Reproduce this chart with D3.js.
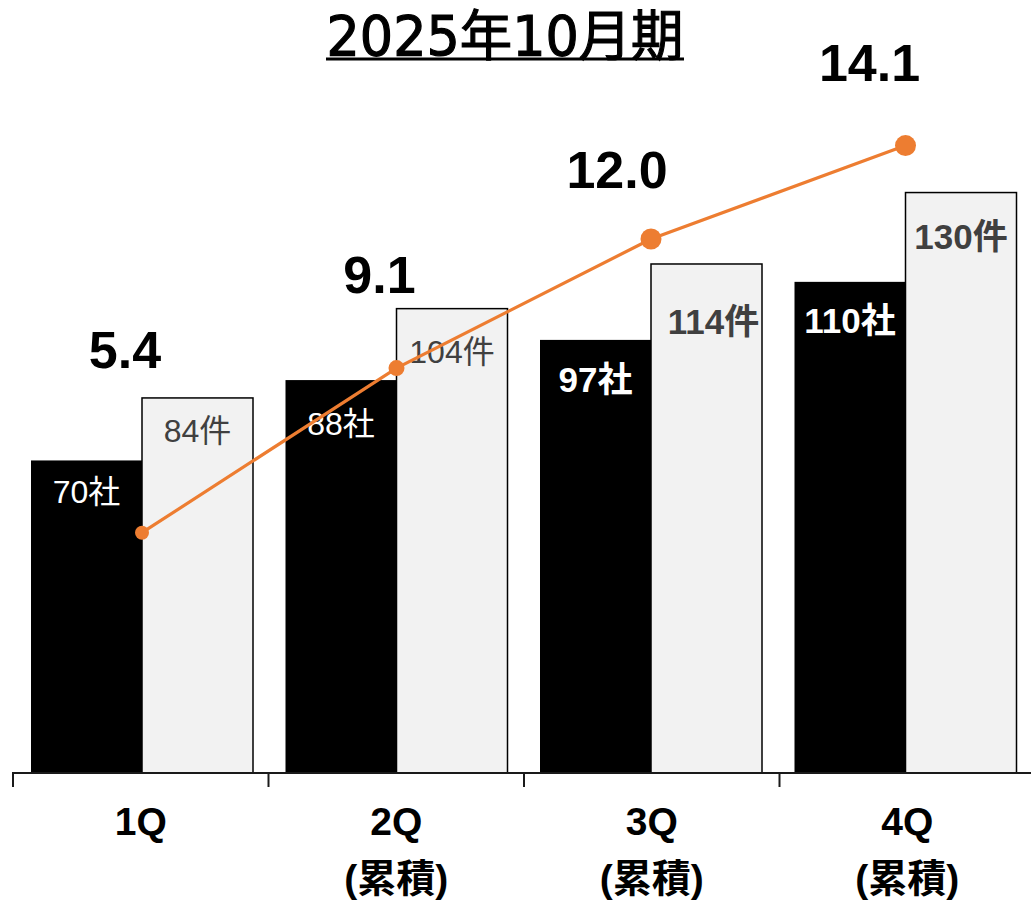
<!DOCTYPE html>
<html>
<head>
<meta charset="utf-8">
<script src="https://cdn.jsdelivr.net/npm/d3@7/dist/d3.min.js"></script>
<style>
  html, body { margin: 0; padding: 0; background: #fff; }
  svg { display: block; }
</style>
</head>
<body>
<svg id="chart" width="1031" height="903"></svg>
<script>
// ---- data ----
const categories = ["1Q", "2Q", "3Q", "4Q"];
const categorySub = ["", "(累積)", "(累積)", "(累積)"];
const companies = [70, 88, 97, 110];      // 社
const deals = [84, 104, 114, 130];        // 件
const lineValues = [5.4, 9.1, 12.0, 14.1];
const title = "2025年10月期";

// ---- layout tweaks for hand-placed labels ----
const companyLabelDrop = [43, 55, 52, 51];
const dealLabelDrop = [44, 54, 70, 56];
const dealLabelDx = [0, 0, 7, 0];
const lineLabelDx = [-17, -17, -34, -36];
const lineLabelDy = [-165, -75, -51, -65];
const markerR = [7, 8, 10.5, 10.5];
const boldFrom = 2;

const svg = d3.select("#chart");
const baseY = 773;
const FONT = "'Liberation Sans', Arial, 'Noto Sans CJK JP', sans-serif";

const xTick = d3.scaleBand().domain(categories).range([13, 1035]);
const xBar = d3.scaleBand().domain(categories).range([12, 1030]);
const xSub = d3.scaleBand().domain(["c", "d"]).range([19, 241]);

const yBar = d3.scaleLinear().domain([0, 150]).range([baseY, baseY - 150 * 4.465]);
const yLine = d3.scaleLinear().domain([0, 15]).range([baseY, baseY - 15 * 44.5]);

// title with underline
svg.append("text")
  .attr("x", 505).attr("y", 55)
  .attr("text-anchor", "middle")
  .attr("font-family", "'DejaVu Sans', 'Noto Sans CJK JP', sans-serif")
  .attr("font-weight", 400)
  .attr("font-size", 55)
  .attr("textLength", 357)
  .attr("lengthAdjust", "spacingAndGlyphs")
  .attr("fill", "#000")
  .attr("stroke", "#000")
  .attr("stroke-width", 1.2)
  .text(title);
svg.append("line")
  .attr("x1", 326).attr("x2", 684)
  .attr("y1", 59).attr("y2", 59)
  .attr("stroke", "#000").attr("stroke-width", 3);

// bars
const g = svg.append("g");
categories.forEach((c, i) => {
  const x0 = xBar(c);
  g.append("rect")
    .attr("x", x0 + xSub("c"))
    .attr("y", yBar(companies[i]))
    .attr("width", xSub.bandwidth())
    .attr("height", baseY - yBar(companies[i]))
    .attr("fill", "#000");
  g.append("rect")
    .attr("x", x0 + xSub("d"))
    .attr("y", yBar(deals[i]))
    .attr("width", xSub.bandwidth())
    .attr("height", baseY - yBar(deals[i]))
    .attr("fill", "#f2f2f2")
    .attr("stroke", "#000")
    .attr("stroke-width", 1.5);

  const bold = i >= boldFrom;
  g.append("text")
    .attr("x", x0 + xSub("c") + xSub.bandwidth() / 2)
    .attr("y", yBar(companies[i]) + companyLabelDrop[i])
    .attr("text-anchor", "middle")
    .attr("font-family", FONT)
    .attr("font-weight", bold ? 700 : 400)
    .attr("font-size", bold ? 35 : 32)
    .attr("fill", "#fff")
    .text(companies[i] + "社");
  g.append("text")
    .attr("x", x0 + xSub("d") + xSub.bandwidth() / 2 + dealLabelDx[i])
    .attr("y", yBar(deals[i]) + dealLabelDrop[i])
    .attr("text-anchor", "middle")
    .attr("font-family", FONT)
    .attr("font-weight", bold ? 700 : 400)
    .attr("font-size", bold ? 35 : 32)
    .attr("fill", "#404040")
    .text(deals[i] + "件");
});

// axis line and ticks between categories
svg.append("line")
  .attr("x1", 12).attr("x2", 1031)
  .attr("y1", baseY).attr("y2", baseY)
  .attr("stroke", "#1a1a1a").attr("stroke-width", 2);
categories.forEach(c => {
  svg.append("line")
    .attr("x1", xTick(c)).attr("x2", xTick(c))
    .attr("y1", baseY).attr("y2", baseY + 14)
    .attr("stroke", "#1a1a1a").attr("stroke-width", 2);
});

// category labels
categories.forEach((c, i) => {
  const cx = xTick(c) + xTick.bandwidth() / 2;
  const lbl = svg.append("text")
    .attr("text-anchor", "middle")
    .attr("font-family", FONT)
    .attr("font-weight", 700)
    .attr("font-size", 39)
    .attr("fill", "#000");
  lbl.append("tspan").attr("x", cx).attr("y", 835).text(c);
  if (categorySub[i]) lbl.append("tspan").attr("x", cx).attr("y", 892).text(categorySub[i]);
});

// line series
const pts = categories.map((c, i) => [xBar(c) + xSub("d"), yLine(lineValues[i])]);
svg.append("path")
  .attr("d", d3.line()(pts))
  .attr("fill", "none")
  .attr("stroke", "#ED7D31")
  .attr("stroke-width", 3.2);
pts.forEach((p, i) => {
  svg.append("circle")
    .attr("cx", p[0]).attr("cy", p[1])
    .attr("r", markerR[i])
    .attr("fill", "#ED7D31");
  svg.append("text")
    .attr("x", p[0] + lineLabelDx[i])
    .attr("y", p[1] + lineLabelDy[i])
    .attr("text-anchor", "middle")
    .attr("font-family", FONT)
    .attr("font-weight", 700)
    .attr("font-size", 52)
    .attr("fill", "#000")
    .text(lineValues[i].toFixed(1));
});
</script>
</body>
</html>
